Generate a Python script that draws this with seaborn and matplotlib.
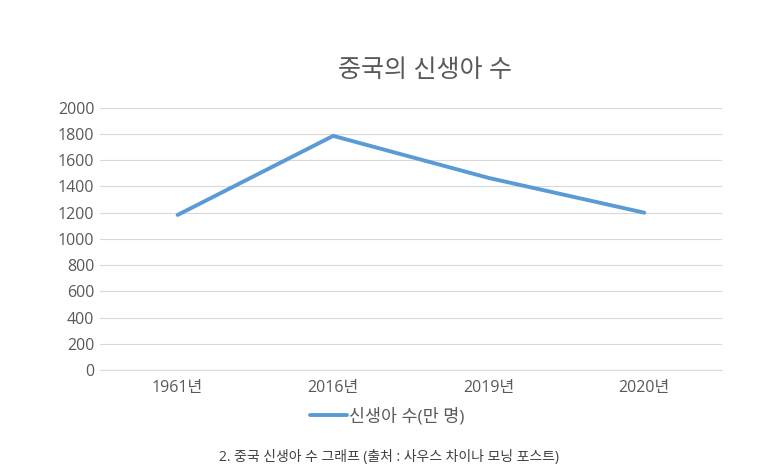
import matplotlib
matplotlib.use("Agg")
import matplotlib.pyplot as plt
import seaborn as sns
import pandas as pd

years = ["1961년", "2016년", "2019년", "2020년"]
births = [1183, 1786, 1465, 1200]  # 만 명
series_name = "신생아 수(만 명)"
title = "중국의 신생아 수"
caption = "2. 중국 신생아 수 그래프 (출처 : 사우스 차이나 모닝 포스트)"

df = pd.DataFrame({"year": years, "births": births, "series": series_name})

sns.set_style("white")
plt.rcParams["font.family"] = ["Open Sans", "Noto Sans CJK KR", "DejaVu Sans"]

fig = plt.figure(figsize=(7.74, 4.75), dpi=100)
ax = fig.add_axes([0.129, 0.221, 0.804, 0.552])

sns.lineplot(data=df, x="year", y="births", hue="series", palette=["#5B9BD5"],
             linewidth=2.8, ax=ax, sort=False)

ax.set_xlim(-0.5, len(years) - 0.5)
ax.set_ylim(0, 2000)
ax.set_yticks(range(0, 2001, 200))
ax.yaxis.grid(True, color="#D9D9D9", linewidth=0.8)
ax.set_axisbelow(True)
for side in ["top", "right", "left"]:
    ax.spines[side].set_visible(False)
ax.spines["bottom"].set_color("#D9D9D9")
ax.tick_params(axis="both", length=0, labelsize=11.5, colors="#595959")
ax.tick_params(axis="x", pad=7)
ax.tick_params(axis="y", pad=4)
ax.set_xlabel("")
ax.set_ylabel("")

fig.text(0.549, 0.852, title, ha="center", va="center", fontsize=18, color="#595959")

leg = ax.legend(loc="upper center", bbox_to_anchor=(0.462, -0.085), frameon=False,
                fontsize=12.5, handlelength=2.1, handletextpad=0.15)
for t in leg.get_texts():
    t.set_color("#595959")

fig.text(0.502, 0.036, caption, ha="center", va="center", fontsize=10, color="#404040")

fig.savefig("out.png", dpi=100, facecolor="white")
